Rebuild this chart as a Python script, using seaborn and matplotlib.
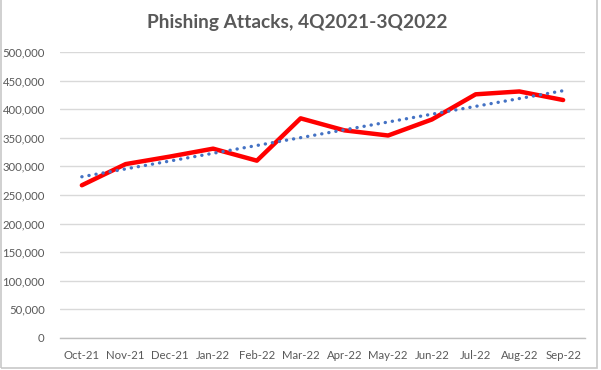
"""
Phishing attacks per month, 4Q2021-3Q2022, with a linear trend line
"""

import matplotlib
matplotlib.use("Agg")
import matplotlib.pyplot as plt
import numpy as np
import pandas as pd
import seaborn as sns
from matplotlib.patches import Rectangle
from matplotlib.ticker import FuncFormatter, MultipleLocator

months = ["Oct-21", "Nov-21", "Dec-21", "Jan-22", "Feb-22", "Mar-22",
          "Apr-22", "May-22", "Jun-22", "Jul-22", "Aug-22", "Sep-22"]
attacks = [267000, 304000, 317000, 331000, 310000, 384000,
           363000, 354000, 382000, 426000, 431000, 416000]

title = "Phishing Attacks, 4Q2021-3Q2022"

sns.set_theme(style="white")
plt.rcParams["font.family"] = ["Lato", "DejaVu Sans"]

df = pd.DataFrame({"month": months, "attacks": attacks})
df["pos"] = np.arange(len(df))

# Excel-style linear trendline
coef = np.polyfit(df["pos"], df["attacks"], 1)
df["trend"] = np.polyval(coef, df["pos"])

fig = plt.figure(figsize=(6.01, 3.70), dpi=100)
ax = fig.add_axes([0.0998, 0.0865, 0.8736, 0.773])

sns.lineplot(data=df, x="pos", y="attacks", ax=ax, color="#FF0000",
             linewidth=3.2, solid_capstyle="round", zorder=3)
sns.lineplot(data=df, x="pos", y="trend", ax=ax, color="#4472C4",
             linewidth=2.4, linestyle=(0, (0.05, 2.1)), dash_capstyle="round",
             zorder=4)

ax.set_xlim(-0.5, len(months) - 0.5)
ax.set_ylim(0, 500000)
ax.yaxis.set_major_locator(MultipleLocator(50000))
ax.yaxis.set_major_formatter(FuncFormatter(lambda v, p: f"{int(v):,}"))
ax.grid(axis="y", color="#D9D9D9", linewidth=1.0)
ax.set_axisbelow(True)

ax.set_xticks(df["pos"])
ax.set_xticklabels(months)
ax.set_xticks(np.arange(-0.5, len(months)), minor=True)
ax.tick_params(axis="x", which="major", length=0, pad=9, labelsize=8.2,
               colors="#595959")
ax.tick_params(axis="x", which="minor", length=5, width=1, color="#BFBFBF")
ax.tick_params(axis="y", length=0, pad=11, labelsize=8.2, colors="#595959")

ax.set_xlabel("")
ax.set_ylabel("")
for side in ["left", "right", "top"]:
    ax.spines[side].set_visible(False)
ax.spines["bottom"].set_color("#BFBFBF")
ax.spines["bottom"].set_linewidth(1)

fig.text(0.495, 0.94, title, ha="center", va="center", fontsize=13.8,
         fontweight="bold", color="#595959")

fig.patches.append(Rectangle((0.001, 0.005), 0.993, 1.2, transform=fig.transFigure,
                             fill=False, edgecolor="#C8C8C8", linewidth=1.2))

fig.savefig("out.png", dpi=100)
plt.close(fig)
